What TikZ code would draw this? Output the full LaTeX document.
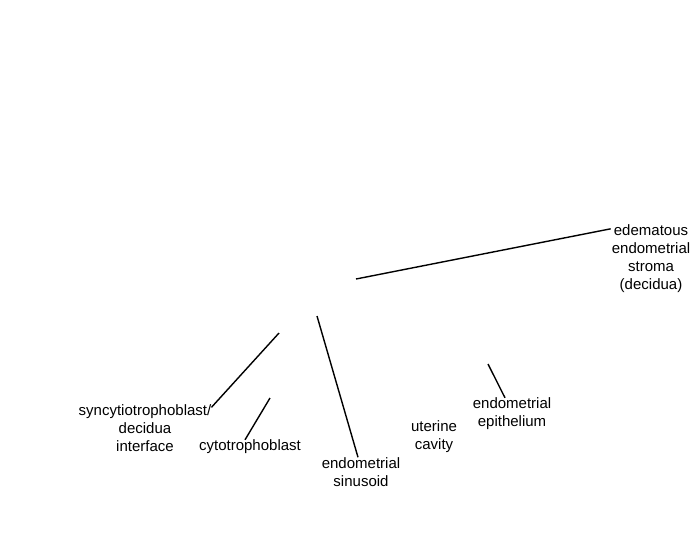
\documentclass[tikz,border=0pt]{standalone}
\usepackage{fontspec}
\setmainfont{Liberation Sans}
\usetikzlibrary{positioning}
\tikzset{
  lbl/.style={align=center, inner sep=0pt, font=\fontsize{15}{18}\selectfont},
  lead/.style={line width=1.4pt}
}

\begin{document}
\begin{tikzpicture}[x=1pt, y=-1pt]
  
  \useasboundingbox (0,0) rectangle (700,550);
  
  % labels
  \node[lbl] (stroma) at (651,259) {edematous\\endometrial\\stroma\\(decidua)};
  \node[lbl] (syncyt) at (145,428) {syncytiotrophoblast/\\decidua\\interface};
  \node[lbl] (cyto) at (250,447) {cytotrophoblast};
  \node[lbl] (sinus) at (361,472) {endometrial\\sinusoid};
  \node[lbl] (cavity) at (434,437) {uterine\\cavity};
  \node[lbl] (epith) at (512,414) {endometrial\\epithelium};

  % free ends of the leaders
  \coordinate (pStroma) at (356,279);
  \coordinate (pSyncyt) at (279,333);
  \coordinate (pCyto) at (270,398);
  \coordinate (pSinus) at (317,316);
  \coordinate (pEpith) at (488,364);

  \draw[lead] (pStroma) -- ([xshift=-1pt, yshift=-4pt]stroma.north west); %% stroma
  \draw[lead] (pSyncyt) -- ([yshift=-3pt]syncyt.north east); %% interface
  \draw[lead] (pCyto) -- ([xshift=-5pt]cyto.north);
  \draw[lead] (pSinus) -- ([xshift=-3pt]sinus.north); %% sinusoid
  \draw[lead] (pEpith) -- ([xshift=-7pt]epith.north);
\end{tikzpicture}
\end{document}
